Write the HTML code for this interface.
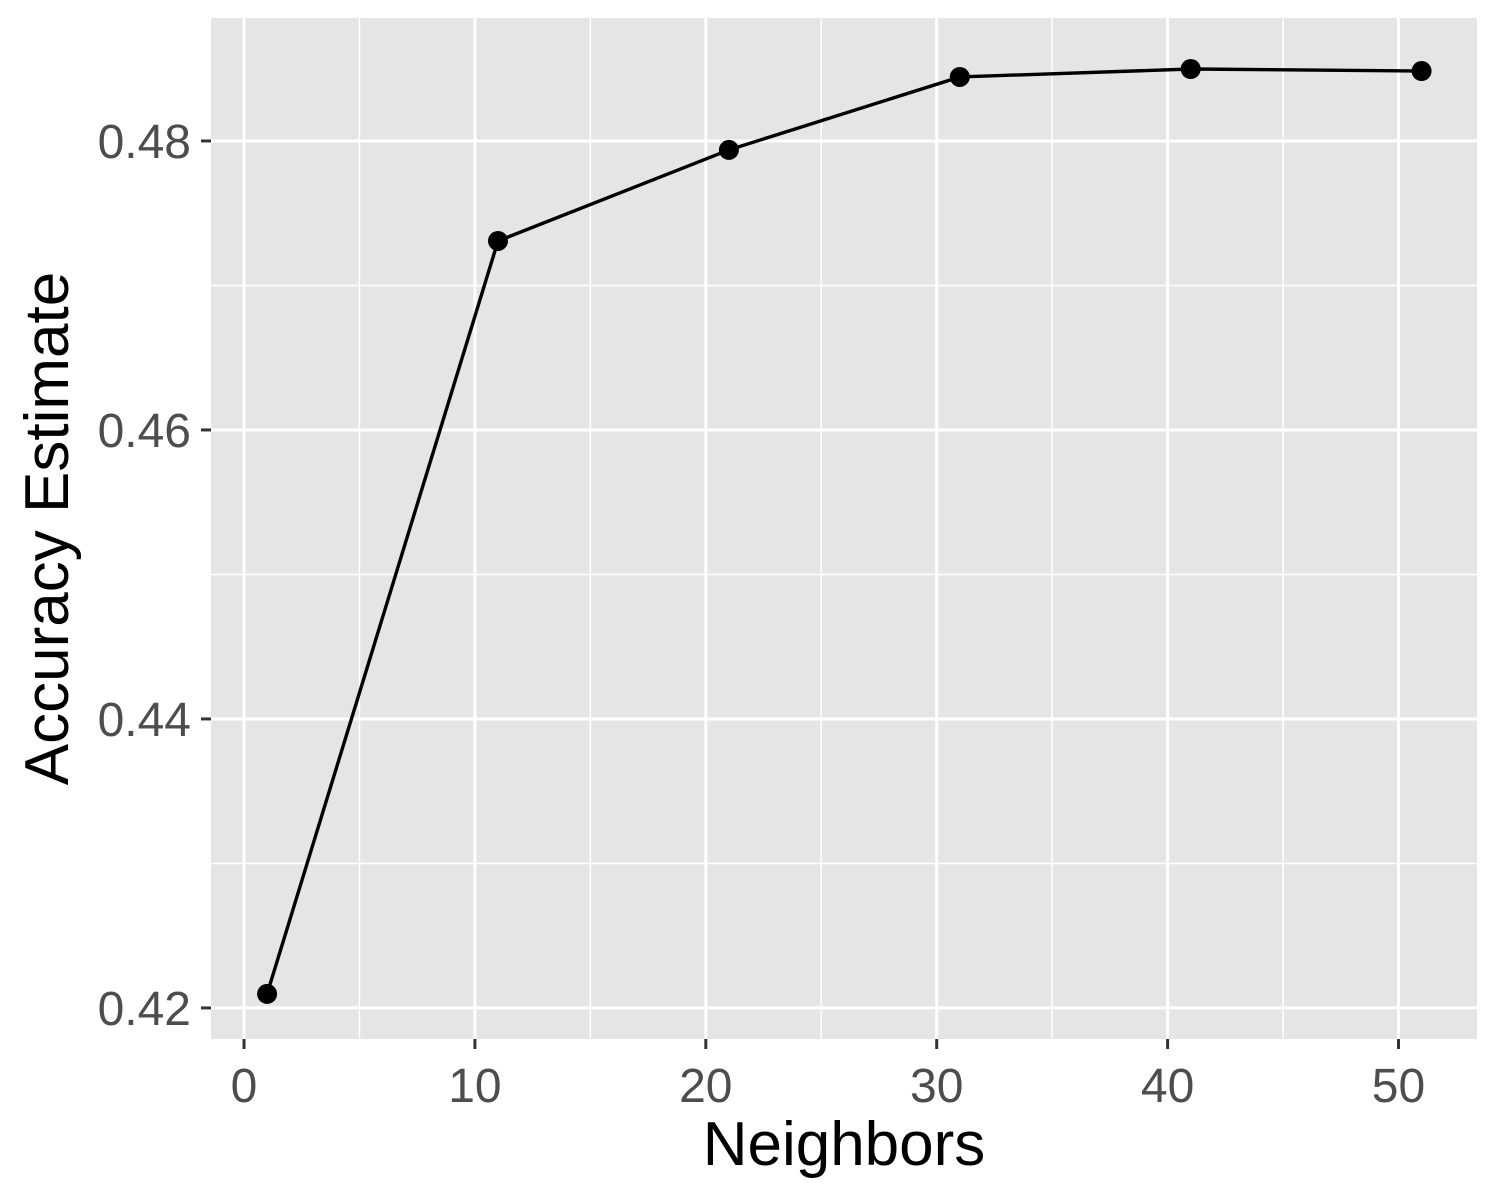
<!DOCTYPE html>
<html><head><meta charset="utf-8"><style>
html,body{margin:0;padding:0;background:#fff;}
svg{display:block;font-family:"Liberation Sans",Arial,sans-serif;}
</style></head><body>
<svg id="chart" width="1500" height="1200" viewBox="0 0 1500 1200"></svg>
<script>
const neighbors = [1, 11, 21, 31, 41, 51];
const accuracy = [0.42097, 0.47308, 0.47938, 0.48443, 0.48498, 0.48484];
const xTicks = [0, 10, 20, 30, 40, 50];
const xTickLabels = ["0", "10", "20", "30", "40", "50"];
const yTicks = [0.42, 0.44, 0.46, 0.48];
const yTickLabels = ["0.42", "0.44", "0.46", "0.48"];

const svg = document.getElementById('chart');
const NS = 'http://www.w3.org/2000/svg';
const P = {l:211, r:1477, t:18, b:1039};
const xMin = -1.43, xMax = 53.4, yMin = 0.41785, yMax = 0.48851;
const xs = v => P.l + (v - xMin) / (xMax - xMin) * (P.r - P.l);
const ys = v => P.b - (v - yMin) / (yMax - yMin) * (P.b - P.t);
function mk(tag, attrs, parent){ const e=document.createElementNS(NS,tag); for(const k in attrs) e.setAttribute(k,attrs[k]); (parent||svg).appendChild(e); return e; }

const panel = mk('rect',{x:P.l,y:P.t,width:P.r-P.l,height:P.b-P.t,fill:'#e5e5e5'});



for(let i=0;i<xTicks.length-1;i++){
  const m=(xTicks[i]+xTicks[i+1])/2;
  const g=mk('line',{x1:xs(m),x2:xs(m),y1:P.t,y2:P.b,stroke:'#fff','stroke-width':1.5});
  
  
}
for(let i=0;i<yTicks.length-1;i++){
  const m=(yTicks[i]+yTicks[i+1])/2;
  const g=mk('line',{x1:P.l,x2:P.r,y1:ys(m),y2:ys(m),stroke:'#fff','stroke-width':1.5});
  
  
}
xTicks.forEach((v,i)=>{
  const g=mk('line',{x1:xs(v),x2:xs(v),y1:P.t,y2:P.b,stroke:'#fff','stroke-width':3});
  
  
  const t=mk('line',{x1:xs(v),x2:xs(v),y1:P.b,y2:P.b+10,stroke:'#333','stroke-width':3});
  
  
  const l=mk('text',{x:xs(v),y:P.b+63,'text-anchor':'middle','font-size':48,fill:'#4d4d4d'});
  l.textContent=xTickLabels[i];
  
  
});
yTicks.forEach((v,i)=>{
  const g=mk('line',{x1:P.l,x2:P.r,y1:ys(v),y2:ys(v),stroke:'#fff','stroke-width':3});
  
  
  const t=mk('line',{x1:P.l-10,x2:P.l,y1:ys(v),y2:ys(v),stroke:'#333','stroke-width':3});
  
  
  const l=mk('text',{x:P.l-20,y:ys(v)+17,'text-anchor':'end','font-size':48,fill:'#4d4d4d'});
  l.textContent=yTickLabels[i];
  
  
});
const pts=neighbors.map((n,i)=>xs(n)+','+ys(accuracy[i])).join(' ');
const line=mk('polyline',{points:pts,fill:'none',stroke:'#000','stroke-width':3.4});


neighbors.forEach((n,i)=>{
  const c=mk('circle',{cx:xs(n),cy:ys(accuracy[i]),r:10,fill:'#000'});
  
  
});
const xt=mk('text',{x:(P.l+P.r)/2,y:1165,'text-anchor':'middle','font-size':62,fill:'#000'});
xt.textContent='Neighbors';


const yt=mk('text',{x:0,y:0,'text-anchor':'middle','font-size':62,fill:'#000',transform:`translate(68,${(P.t+P.b)/2}) rotate(-90)`});
yt.textContent='Accuracy Estimate';


</script>
</body></html>
